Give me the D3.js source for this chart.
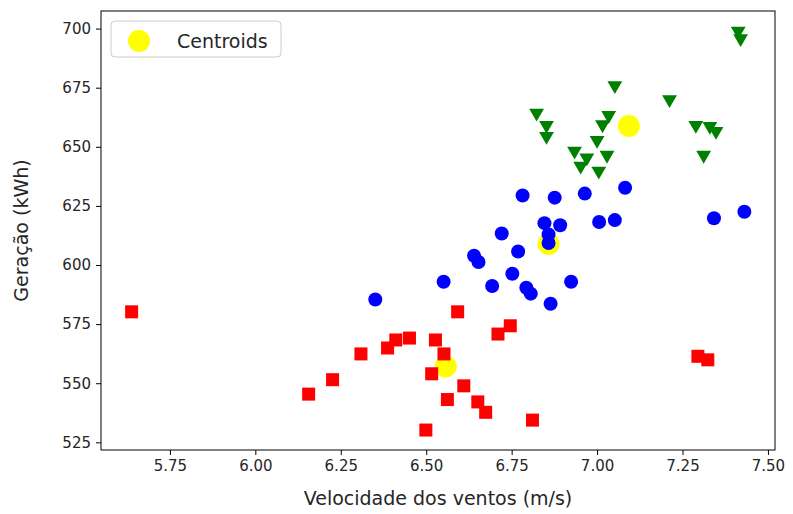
<!DOCTYPE html>
<html>
<head>
<meta charset="utf-8">
<script src="https://cdn.jsdelivr.net/npm/d3@7/dist/d3.min.js"></script>
<style>
  body { margin: 0; background: #fff; }
  text { font-family: "DejaVu Sans", sans-serif; fill: #262626; }
</style>
</head>
<body>
<script>
// cluster 0 (red squares)
const redX = [5.638, 6.156, 6.226, 6.309, 6.387, 6.411, 6.451, 6.527, 6.552, 6.516, 6.592,
              6.610, 6.562, 6.651, 6.674, 6.499, 6.811, 6.710, 6.746, 7.295, 7.324];
const redY = [580.2, 545.4, 551.5, 562.4, 564.9, 568.3, 569.1, 568.3, 562.4, 554.0, 580.2,
              548.9, 543.1, 542.1, 537.7, 530.2, 534.4, 570.8, 574.3, 561.4, 559.9];

// cluster 1 (blue circles)
const blueX = [6.351, 6.551, 6.640, 6.653, 6.693, 6.721, 6.752, 6.769, 6.782, 6.793, 6.806, 6.846,
               6.892, 6.858, 6.858, 6.864, 6.876, 6.924, 6.964, 7.006, 7.052, 7.082, 7.342, 7.431];
const blueY = [585.4, 592.9, 603.9, 601.3, 591.1, 613.3, 596.3, 605.7, 629.4, 590.4, 587.9, 617.7,
               616.8, 612.9, 609.3, 583.6, 628.5, 592.9, 630.2, 618.2, 619.0, 632.7, 619.8, 622.5];

// cluster 2 (green triangles)
const greenX = [7.413, 7.420, 7.052, 7.212, 6.823, 6.852, 6.852, 7.034, 7.016, 7.289, 7.330,
                7.348, 7.000, 6.934, 6.970, 6.952, 7.029, 7.005, 7.312];
const greenY = [699.0, 695.8, 675.9, 670.0, 664.3, 659.1, 654.5, 663.3, 659.4, 659.1, 658.7,
                656.6, 652.8, 648.2, 645.4, 641.9, 646.5, 639.8, 646.5];

// centroids
const centX = [7.093, 6.858, 6.557];
const centY = [658.8, 608.9, 557.1];

const xTicks = [5.75, 6.00, 6.25, 6.50, 6.75, 7.00, 7.25, 7.50];
const yTicks = [525, 550, 575, 600, 625, 650, 675, 700];

const width = 793, height = 514;
const margin = {top: 11, right: 18, bottom: 64, left: 101};
const iw = width - margin.left - margin.right,
      ih = height - margin.top - margin.bottom;

const svg = d3.select("body").append("svg")
    .attr("width", width)
    .attr("height", height);

// matplotlib style 5% padding
const allX = redX.concat(blueX, greenX), allY = redY.concat(blueY, greenY);
const pad = (ext) => { const d = (ext[1] - ext[0]) * 0.05; return [ext[0] - d, ext[1] + d]; };

const x = d3.scaleLinear().domain(pad(d3.extent(allX))).range([0, iw]);
const y = d3.scaleLinear().domain(pad(d3.extent(allY))).range([ih, 0]);

const g = svg.append("g").attr("transform", `translate(${margin.left},${margin.top})`);

const zip = (a, b) => a.map((v, i) => [v, b[i]]);

// centroids sit underneath the clusters
g.selectAll(".cent").data(zip(centX, centY)).enter().append("circle")
    .attr("cx", d => x(d[0]))
    .attr("cy", d => y(d[1]))
    .attr("r", 11)
    .attr("fill", "#ffff00");

// squares
const sq = 13;
g.selectAll(".red").data(zip(redX, redY)).enter().append("rect")
    .attr("x", d => x(d[0]) - sq / 2)
    .attr("y", d => y(d[1]) - sq / 2)
    .attr("width", sq).attr("height", sq)
    .attr("fill", "#ff0000");

// circles
g.selectAll(".blue").data(zip(blueX, blueY)).enter().append("circle")
    .attr("cx", d => x(d[0]))
    .attr("cy", d => y(d[1]))
    .attr("r", 7)
    .attr("fill", "#0000ff");

// triangles (down)
const tri = d3.symbol().type(d3.symbolTriangle).size(95);
g.selectAll(".green").data(zip(greenX, greenY)).enter().append("path")
    .attr("d", tri)
    .attr("transform", d => `translate(${x(d[0])},${y(d[1])}) rotate(180)`)
    .attr("fill", "#008000");

// axes
const xAxis = g.append("g").attr("transform", `translate(0,${ih})`)
    .call(d3.axisBottom(x).tickValues(xTicks).tickFormat(d3.format(".2f")).tickSize(5).tickPadding(5));
const yAxis = g.append("g")
    .call(d3.axisLeft(y).tickValues(yTicks).tickFormat(d3.format("d")).tickSize(5).tickPadding(5));

[xAxis, yAxis].forEach(a => {
    a.select(".domain").remove();
    a.selectAll("line").attr("stroke", "#000").attr("stroke-width", 1);
    a.selectAll("text").attr("font-size", 15).attr("fill", "#262626")
        .attr("font-family", "DejaVu Sans");
});

g.append("rect")
    .attr("width", iw).attr("height", ih)
    .attr("fill", "none").attr("stroke", "#000").attr("stroke-width", 1);

// labels
svg.append("text")
    .attr("x", margin.left + iw / 2)
    .attr("y", 505)
    .attr("text-anchor", "middle")
    .attr("font-size", 19)
    .text("Velocidade dos ventos (m/s)");

svg.append("text")
    .attr("transform", `translate(28,${margin.top + ih / 2}) rotate(-90)`)
    .attr("text-anchor", "middle")
    .attr("font-size", 19)
    .text("Geração (kWh)");

// legend
const lg = g.append("g").attr("transform", "translate(10,10)");
lg.append("rect")
    .attr("width", 170).attr("height", 36).attr("rx", 4)
    .attr("fill", "#fff").attr("fill-opacity", 0.8)
    .attr("stroke", "#cccccc");
lg.append("circle").attr("cx", 28).attr("cy", 20).attr("r", 11).attr("fill", "#ffff00");
lg.append("text").attr("x", 66).attr("y", 20).attr("dy", "0.35em")
    .attr("font-size", 19).text("Centroids");
</script>
</body>
</html>
